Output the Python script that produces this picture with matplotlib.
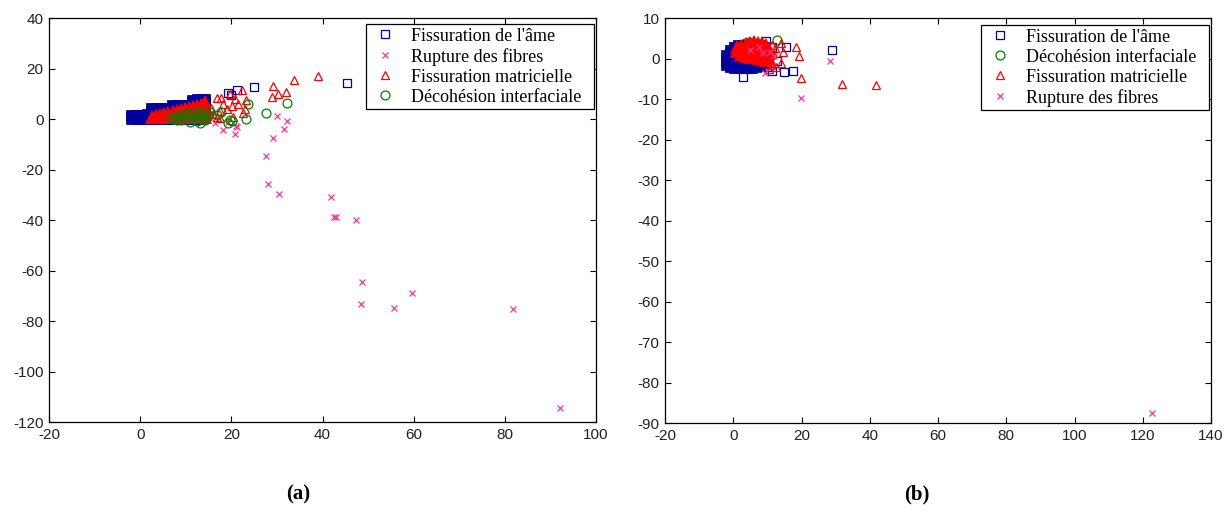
import matplotlib
matplotlib.use("Agg")
import matplotlib.pyplot as plt

plt.rcParams['axes.unicode_minus'] = False

# ---------------- data : panel (a) ----------------
# dense core of "Fissuration de l'âme"
ame_a_core_x = [-1.8, -1.8, -0.9, -0.9, 0.0, 0.0, 0.9, 0.9, 1.8, 1.8,
                2.7, 2.7, 2.7, 2.7, 3.6, 3.6, 3.6, 3.6, 4.5, 4.5, 4.5, 4.5,
                5.4, 5.4, 5.4, 5.4, 6.3, 6.3, 6.3, 6.3,
                7.2, 7.2, 7.2, 7.2, 7.2, 8.1, 8.1, 8.1, 8.1, 8.1, 9.0, 9.0, 9.0, 9.0, 9.0,
                9.9, 9.9, 9.9, 9.9, 9.9, 10.8, 10.8, 10.8, 10.8, 10.8,
                11.7, 11.7, 11.7, 11.7, 11.7, 11.7, 11.7,
                12.6, 12.6, 12.6, 12.6, 12.6, 12.6, 12.6,
                13.5, 13.5, 13.5, 13.5, 13.5, 13.5, 13.5,
                14.2, 14.2, 14.2, 14.2, 14.2, 14.2, 14.2]
ame_a_core_y = [0.0, 1.3, 0.0, 1.3, 0.0, 1.3, 0.0, 1.3, 0.0, 1.4,
                0.0, 1.3, 2.6, 3.9, 0.0, 1.3, 2.6, 3.9, 0.0, 1.3, 2.6, 3.9,
                0.0, 1.3, 2.6, 3.9, 0.0, 1.3, 2.6, 4.0,
                0.0, 1.3, 2.6, 3.9, 5.2, 0.0, 1.3, 2.6, 3.9, 5.2, 0.0, 1.3, 2.6, 3.9, 5.2,
                0.0, 1.3, 2.6, 3.9, 5.2, 0.0, 1.3, 2.6, 3.9, 5.3,
                0.0, 1.3, 2.6, 3.9, 5.2, 6.5, 7.3,
                0.0, 1.3, 2.6, 3.9, 5.2, 6.5, 7.4,
                0.0, 1.3, 2.6, 3.9, 5.2, 6.5, 7.5,
                0.2, 1.4, 2.7, 4.0, 5.3, 6.6, 7.5]
ame_a_x = [19.3, 20.0, 21.2, 25.0, 45.4]
ame_a_y = [10.3, 9.6, 11.5, 12.7, 14.3]

fibres_a_x = [16.4, 18.2, 19.3, 20.8, 21.0, 21.2, 30.0, 32.2, 31.6, 29.1, 27.6,
              28.0, 30.5, 41.9, 42.5, 43.0, 47.4, 48.7, 59.6, 48.5, 55.7, 81.8, 92.1]
fibres_a_y = [-1.6, -4.4, -1.2, -5.8, -2.8, -3.2, 1.2, -0.8, -4.0, -7.4, -14.8,
              -25.7, -29.7, -30.9, -38.7, -38.9, -40.0, -64.6, -69.0, -73.3, -74.9, -75.2, -114.5]

# dense core of "Fissuration matricielle"
matrice_a_core_x = [2.6, 3.5, 3.5, 4.4, 4.4, 5.3, 5.3, 6.2, 6.2, 6.2, 7.1, 7.1, 7.1,
                    8.0, 8.0, 8.0, 8.9, 8.9, 8.9, 8.9, 9.8, 9.8, 9.8, 9.8,
                    10.7, 10.7, 10.7, 10.7, 11.6, 11.6, 11.6, 11.6, 11.6,
                    12.5, 12.5, 12.5, 12.5, 12.5, 13.4, 13.4, 13.4, 13.4, 13.4,
                    14.3, 14.3, 14.3, 14.3, 14.3, 14.3]
matrice_a_core_y = [0.3, 0.3, 0.7, 0.3, 1.1, 0.3, 1.5, 0.3, 1.5, 1.9, 0.3, 1.5, 2.3,
                    0.3, 1.5, 2.7, 0.3, 1.5, 2.7, 3.1, 0.3, 1.5, 2.7, 3.5,
                    0.3, 1.5, 2.7, 3.9, 0.3, 1.5, 2.7, 3.9, 4.3,
                    0.3, 1.5, 2.7, 3.9, 4.7, 0.3, 1.5, 2.7, 3.9, 5.1,
                    0.3, 1.5, 2.7, 3.9, 5.1, 6.3]
matrice_a_x = [39.0, 33.8, 29.2, 32.0, 30.2, 28.9, 22.4, 19.7, 16.8, 17.7, 20.8, 23.2,
               18.2, 20.2, 21.5, 23.0, 22.6, 19.1, 17.5, 20.4, 16.8, 17.5, 15.5, 16.0]
matrice_a_y = [17.0, 15.5, 13.2, 10.5, 10.0, 8.8, 11.6, 10.0, 8.3, 8.4, 7.8, 7.6,
               6.0, 5.2, 6.0, 4.1, 2.5, 4.0, 3.3, 0.7, 0.6, 0.2, 4.5, 2.0]

decoh_a_x = [6.5, 7.5, 8.3, 9.0, 9.8, 10.5, 10.9, 11.5, 12.0, 12.5, 13.1, 13.3,
             13.8, 14.2, 14.8, 12.8, 11.2, 9.5, 8.0,
             15.3, 16.8, 17.7, 19.3, 19.7, 20.2, 23.2, 23.6, 27.6, 32.2]
decoh_a_y = [0.5, 0.0, 1.0, -0.5, 0.8, 1.8, -1.2, 0.3, 1.5, -0.8, -1.6, 0.8,
             2.2, -0.2, 1.2, 2.8, 2.5, 2.0, -0.3,
             2.8, 1.6, 2.8, -1.6, -0.4, -0.8, 0.0, 5.9, 2.3, 6.3]

# ---------------- data : panel (b) ----------------
ame_b_core_x = [-1.8, -1.8, -1.8,
                -0.6, -0.6, -0.6, -0.6, -0.6,
                0.6, 0.6, 0.6, 0.6, 0.6, 0.6,
                1.8, 1.8, 1.8, 1.8, 1.8, 1.8, 1.8,
                3.0, 3.0, 3.0, 3.0, 3.0, 3.0, 3.0,
                4.2, 4.2, 4.2, 4.2, 4.2, 4.2, 4.2,
                5.4, 5.4, 5.4, 5.4, 5.4, 5.4, 5.4,
                6.6, 6.6, 6.6, 6.6, 6.6, 6.6, 6.6,
                7.8, 7.8, 7.8, 7.8, 7.8, 7.8,
                9.0, 9.0, 9.0, 9.0, 9.0]
ame_b_core_y = [-1.5, -0.5, 0.5,
                -2.0, -1.0, 0.0, 1.0, 1.8,
                -2.3, -1.3, -0.3, 0.7, 1.7, 2.5,
                -2.4, -1.4, -0.4, 0.6, 1.6, 2.6, 3.0,
                -2.4, -1.4, -0.4, 0.6, 1.6, 2.6, 3.2,
                -2.4, -1.4, -0.4, 0.6, 1.6, 2.6, 3.2,
                -2.4, -1.4, -0.4, 0.6, 1.6, 2.6, 3.2,
                -2.2, -1.2, -0.2, 0.8, 1.8, 2.8, 3.2,
                -1.8, -0.8, 0.2, 1.2, 2.2, 3.0,
                -1.2, -0.2, 0.8, 1.8, 2.6]
ame_b_x = [28.9, 2.9, 14.9, 17.5, 11.3, 12.8, 15.5, 9.6, 7.8, 5.8, 10.5, 11.5, 9.8]
ame_b_y = [2.1, -4.6, -3.3, -3.1, -3.1, -0.6, 2.8, 4.3, -1.6, -2.4, 1.0, 2.8, -2.2]

decoh_b_x = [12.8, 4.6, 3.4]
decoh_b_y = [4.6, 4.1, 3.8]

matrice_b_core_x = [1.2, 1.2, 2.4, 2.4, 2.4, 3.6, 3.6, 3.6, 3.6,
                    4.8, 4.8, 4.8, 4.8, 4.8, 6.0, 6.0, 6.0, 6.0, 6.0,
                    7.2, 7.2, 7.2, 7.2, 7.2, 8.4, 8.4, 8.4, 8.4, 8.4,
                    9.6, 9.6, 9.6, 9.6, 9.6, 10.4, 10.4, 10.4]
matrice_b_core_y = [1.6, 2.6, 0.8, 1.8, 2.8, 0.3, 1.3, 2.3, 3.3,
                    0.1, 1.1, 2.1, 3.1, 3.7, 0.1, 1.1, 2.1, 3.1, 3.8,
                    0.0, 1.0, 2.0, 3.0, 3.7, -0.3, 0.7, 1.7, 2.7, 3.5,
                    -0.5, 0.5, 1.5, 2.5, 3.2, 0.0, 1.0, 2.0]
matrice_b_x = [18.4, 19.3, 19.8, 31.9, 41.8, 14.0, 14.6, 14.0, 11.1, 10.2, 11.6,
               12.2, 11.3, 10.6, 12.5]
matrice_b_y = [2.8, 0.6, -4.8, -6.3, -6.5, -1.1, 1.6, 3.8, -1.6, -0.4, 1.3,
               2.6, 3.3, -2.6, -2.0]

fibres_b_x = [28.4, 19.9, 9.3, 122.7, 4.9, 8.7, 10.8, 7.5, 12.0]
fibres_b_y = [-0.6, -9.8, -3.6, -87.5, 2.1, 1.3, 1.6, 2.8, 0.5]

labels = ["Fissuration de l'âme", "Rupture des fibres",
          "Fissuration matricielle", "Décohésion interfaciale"]

# ---------------- styles ----------------
C_BLUE = '#00009c'
C_PINK = '#ff3399'
C_RED = '#ff0000'
C_GREEN = '#008000'
sty = {
    labels[0]: dict(marker='s', ms=6.0, mfc='none', mec=C_BLUE, mew=0.9),
    labels[1]: dict(marker='x', ms=4.8, mfc='none', mec=C_PINK, mew=0.9),
    labels[2]: dict(marker='^', ms=6.4, mfc='none', mec=C_RED, mew=0.9),
    labels[3]: dict(marker='o', ms=6.4, mfc='none', mec=C_GREEN, mew=0.9),
}

fig = plt.figure(figsize=(12.3, 5.16), dpi=100)
ax1 = fig.add_axes([49 / 1230, 1 - 422 / 516, 547 / 1230, 404 / 516])
ax2 = fig.add_axes([665 / 1230, 1 - 423 / 516, 546 / 1230, 405 / 516])


def series(ax, x, y, lab, core=False):
    kw = dict(sty[lab])
    if core:
        kw['mew'] = 2.7
        return ax.plot(x, y, linestyle='none', label='_nolegend_', **kw)[0]
    return ax.plot(x, y, linestyle='none', label=lab, **kw)[0]


series(ax1, ame_a_core_x, ame_a_core_y, labels[0], core=True)
ha0 = series(ax1, ame_a_x, ame_a_y, labels[0])
ha1 = series(ax1, fibres_a_x, fibres_a_y, labels[1])
series(ax1, matrice_a_core_x, matrice_a_core_y, labels[2], core=True)
ha2 = series(ax1, matrice_a_x, matrice_a_y, labels[2])
ha3 = series(ax1, decoh_a_x, decoh_a_y, labels[3])
h1 = [ha0, ha1, ha2, ha3]

series(ax2, ame_b_core_x, ame_b_core_y, labels[0], core=True)
hb0 = series(ax2, ame_b_x, ame_b_y, labels[0])
hb3 = series(ax2, decoh_b_x, decoh_b_y, labels[3])
series(ax2, matrice_b_core_x, matrice_b_core_y, labels[2], core=True)
hb2 = series(ax2, matrice_b_x, matrice_b_y, labels[2])
hb1 = series(ax2, fibres_b_x, fibres_b_y, labels[1])
h2 = [hb0, hb3, hb2, hb1]

ax1.set_xlim(-20, 100)
ax1.set_ylim(-120, 40)
ax1.set_xticks(range(-20, 101, 20))
ax1.set_yticks(range(-120, 41, 20))
ax2.set_xlim(-20, 140)
ax2.set_ylim(-90, 10)
ax2.set_xticks(range(-20, 141, 20))
ax2.set_yticks(range(-90, 11, 10))

for ax in (ax1, ax2):
    for s in ax.spines.values():
        s.set_linewidth(0.9)
        s.set_color('black')
    ax.tick_params(direction='in', top=True, right=True, length=4.5, width=0.8,
                   labelsize=11, pad=4, colors='black', labelcolor='#222222')
    for t in ax.get_xticklabels() + ax.get_yticklabels():
        t.set_fontfamily('Liberation Sans')

leg_kw = dict(loc='upper right', frameon=True, fancybox=False, framealpha=1,
              edgecolor='black', prop={'family': 'Liberation Serif', 'size': 13},
              borderpad=0.2, labelspacing=0.17, handlelength=1.7,
              handletextpad=0.6, borderaxespad=0)
lab_pad = '\u00a0\u00a0'
l1 = ax1.legend(handles=h1, labels=[h.get_label() + lab_pad for h in h1],
                bbox_to_anchor=((594 - 49) / 547, (422 - 24) / 404), **leg_kw)
l2 = ax2.legend(handles=h2, labels=[h.get_label() + lab_pad for h in h2],
                bbox_to_anchor=((1209 - 665) / 546, (423 - 25) / 405), **leg_kw)
for lg in (l1, l2):
    lg.get_frame().set_linewidth(0.9)

fig.text(298 / 1230, 1 - 494 / 516, '(a)', ha='center', va='center',
         fontfamily='Liberation Serif', fontweight='bold', fontsize=15)
fig.text(917 / 1230, 1 - 494 / 516, '(b)', ha='center', va='center',
         fontfamily='Liberation Serif', fontweight='bold', fontsize=15)

fig.savefig('out.png', dpi=100, facecolor='white')
